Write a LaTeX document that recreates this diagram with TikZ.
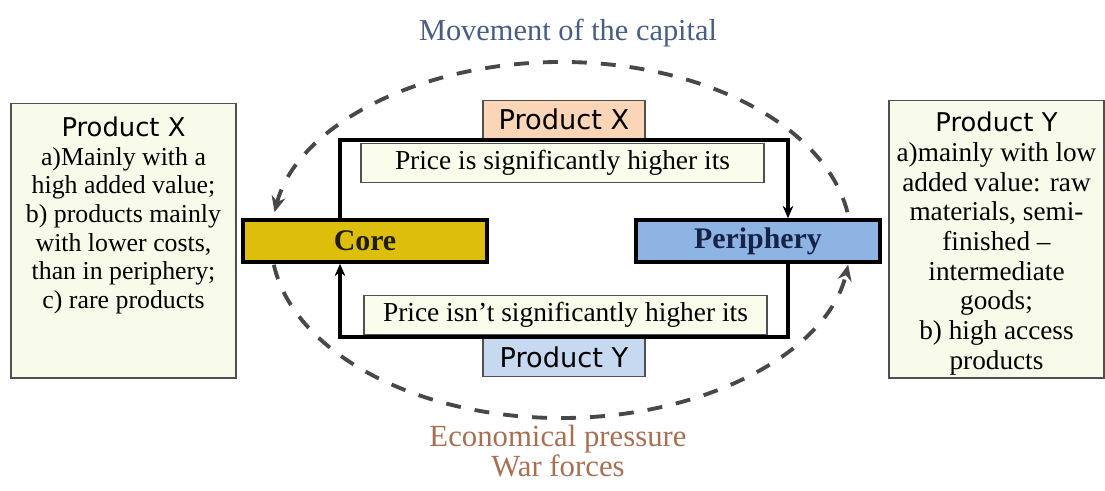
\documentclass[tikz,border=0pt]{standalone}
\usepackage{fontspec}
\setmainfont{Liberation Serif}
\setsansfont{DejaVu Sans}
\usepackage{xcolor}
\definecolor{sidefill}{RGB}{249,251,234}
\definecolor{pricefill}{RGB}{250,252,236}
\definecolor{corefill}{RGB}{222,190,12}
\definecolor{perfill}{RGB}{141,180,226}
\definecolor{pxfill}{RGB}{251,213,183}
\definecolor{pyfill}{RGB}{198,217,241}
\definecolor{boxgray}{RGB}{80,80,80}
\definecolor{dashgray}{RGB}{72,72,72}
\definecolor{titleblue}{RGB}{72,92,132}
\definecolor{forcebrown}{RGB}{168,112,82}
\definecolor{pertext}{RGB}{22,34,72}
\usetikzlibrary{arrows.meta,positioning,calc}

\begin{document}
\begin{tikzpicture}[
  every node/.style={font=\fontsize{14}{16.5}\selectfont},
  sidebox/.style={draw=boxgray,fill=sidefill,line width=0.8pt,anchor=north,inner sep=1.5pt},
  mainbox/.style={draw=black,line width=2pt,minimum width=4.88cm,minimum height=0.84cm,
                  font=\fontsize{17}{19}\selectfont\bfseries},
  prodbox/.style={draw=boxgray,line width=0.8pt,minimum width=3.24cm,minimum height=0.78cm,
                  font=\sffamily\fontsize{15.5}{17}\selectfont},
  pricebox/.style={draw=boxgray,fill=pricefill,line width=0.8pt,minimum width=8.06cm,
                   minimum height=0.78cm,font=\fontsize{15.6}{17}\selectfont},
  loopline/.style={-{Stealth[length=7pt,width=6pt]},line width=2pt},
  capflow/.style={-{Stealth[length=9pt,width=8pt]},dashgray,line width=2.2pt,
                  dash pattern=on 8.5pt off 8pt},
]
  \useasboundingbox (0,0) rectangle (22.1,9.8);

  % Side descriptions
  \node[sidebox] (lbox) at (2.47,7.74)
    {\parbox[t][5.38cm][t]{4.4cm}{\centering\fontsize{14.7}{16.3}\selectfont
      \vspace*{6pt}
      {\sffamily Product X}\\
      a)Mainly with a\\
      high added value;\\
      b) products mainly\\
      with lower costs,\\
      than in periphery;\\
      c) rare products}};
  \node[sidebox] (rbox) at (19.93,7.8)
    {\parbox[t][5.44cm][t]{4.2cm}{\centering\fontsize{15.5}{16.9}\selectfont
      \vspace*{5pt}
      {\sffamily\fontsize{14.7}{16.9}\selectfont Product Y}\\
      a)mainly with low\\
      added value: raw\\
      materials, semi-\\
      finished --\\
      intermediate\\
      goods;\\
      b) high access\\
      products}};

  % Core and periphery
  \node[mainbox,fill=corefill,text=black!85!corefill] (core) at (7.3,4.98) {Core};
  \node[mainbox,fill=perfill,text=pertext] (per) at (15.16,4.98) {Periphery};

  % Flows between them
  \node[prodbox,fill=pxfill,anchor=south] (pxtop) at (11.28,7.0) {Product X};
  \node[pricebox,anchor=north] (pricehi) at (11.25,6.94) {Price is significantly higher its};
  \node[pricebox,anchor=south] (pricelo) at (11.31,3.1) {Price isn't significantly higher its};
  \node[prodbox,fill=pyfill,anchor=north] (pybot) at (11.28,3.06) {Product Y};

  \draw[loopline] ([xshift=-0.5cm]core.north) |- (pxtop.south) -| ([xshift=0.6cm]per.north);
  \draw[loopline] ([xshift=0.6cm]per.south) |- (pybot.north) -| ([xshift=-0.5cm]core.south);

  % Capital movement and pressure
  \coordinate (ctr) at (11.22,5.0);
  \draw[capflow] ($(ctr)+(9:5.8 and 3.56)$) arc[start angle=9,end angle=171,x radius=5.8,y radius=3.56];
  \draw[capflow] ($(ctr)+(188:5.8 and 3.56)$) arc[start angle=188,end angle=352,x radius=5.8,y radius=3.56];

  \node[text=titleblue,font=\fontsize{17.3}{19}\selectfont] (cap) at (11.36,9.14) {Movement of the capital};
  \node[text=forcebrown,align=center,font=\fontsize{17.5}{16}\selectfont] (force) at (11.16,0.78)
    {Economical pressure\\War forces};
\end{tikzpicture}
\end{document}
